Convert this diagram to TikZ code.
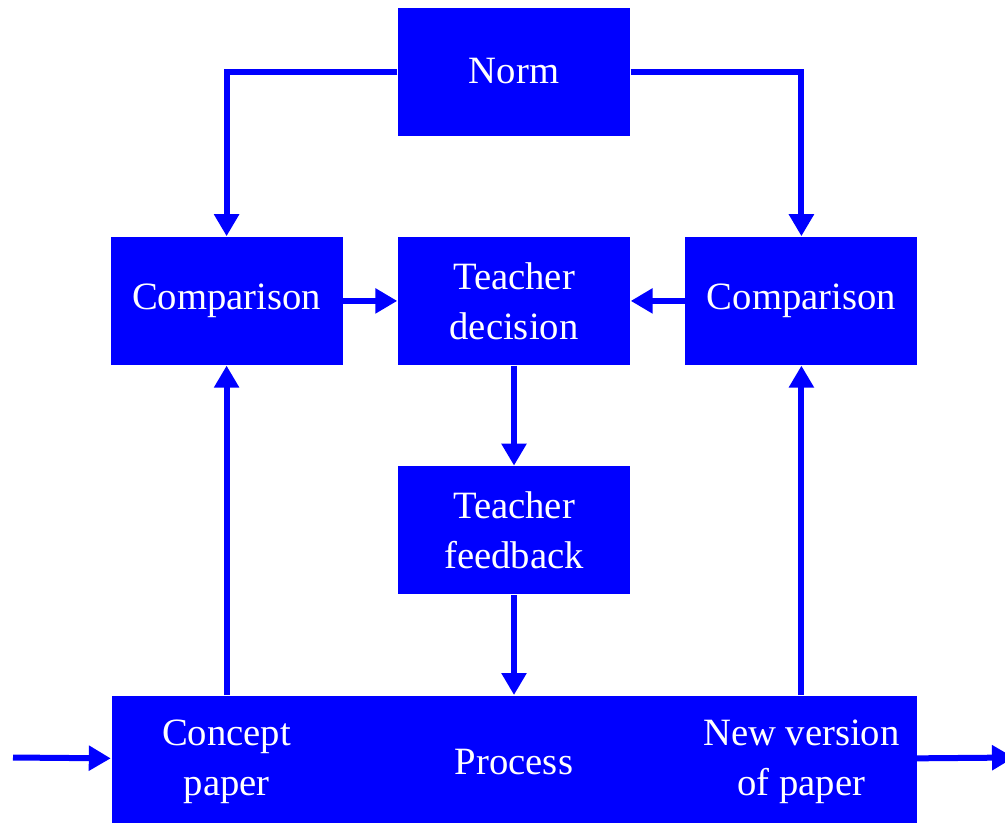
\documentclass[tikz,border=0pt]{standalone}
\usepackage{fontspec}
\setmainfont{Liberation Serif}
\usetikzlibrary{positioning,arrows.meta}
\definecolor{boxblue}{RGB}{0,0,255}

\begin{document}
\begin{tikzpicture}[node distance=1cm]
	% Configurable lengths
	\def\blockWidth{2.32cm}
	\def\blockHeight{1.28cm}
	\def\sideSpacing{0.54cm}

	% Styles
	\tikzstyle{block}=[fill=boxblue, rectangle, minimum width=\blockWidth, minimum height=\blockHeight, inner sep=0pt, text=white, align=center, font={\fontsize{11pt}{14.2pt}\selectfont}]
	\tikzstyle{arrow}=[-{Triangle[length=0.22cm,width=0.24cm]}, line width=0.06cm, draw=boxblue]
	\tikzstyle{boxtext}=[text=white, align=center, font={\fontsize{11pt}{14.2pt}\selectfont}]

	\useasboundingbox (0,0) rectangle (10.05,-8.22);

	% Blocks
	\node[block] (norm) at (5.14,-0.715) {Norm};
	\node[block, below=of norm] (decision) {Teacher\\decision};
	\node[block, left=\sideSpacing of decision] (cmpL) {Comparison};
	\node[block, right=\sideSpacing of decision] (cmpR) {Comparison};
	\node[block, below=of decision] (feedback) {Teacher\\feedback};
	\node[block, below=of feedback, minimum width=8.05cm, minimum height=1.32cm] (process) {Process};

	% Texts in the process
	\node[boxtext] (concept) at (cmpL |- process) {Concept\\paper};
	\node[boxtext] (newversion) at (cmpR |- process) {New version\\of paper};

	% Ends
	\coordinate (in) at (0.13,-7.575);
	\coordinate (out) at (10.14,-7.575);

	% Arrows
	\draw[arrow] (norm.west) -| (cmpL.north);
	\draw[arrow] (norm.east) -| (cmpR.north);
	\draw[arrow] (cmpL) -- (decision);
	\draw[arrow] (cmpR) -- (decision);
	\draw[arrow] (decision) -- (feedback);
	\draw[arrow] (feedback) -- (process);
	\draw[arrow] (process.north -| cmpL) -- (cmpL);
	\draw[arrow] (process.north -| cmpR) -- (cmpR);
	\draw[arrow] (in) -- (process);
	\draw[arrow] (process) -- (out);
\end{tikzpicture}
\end{document}
